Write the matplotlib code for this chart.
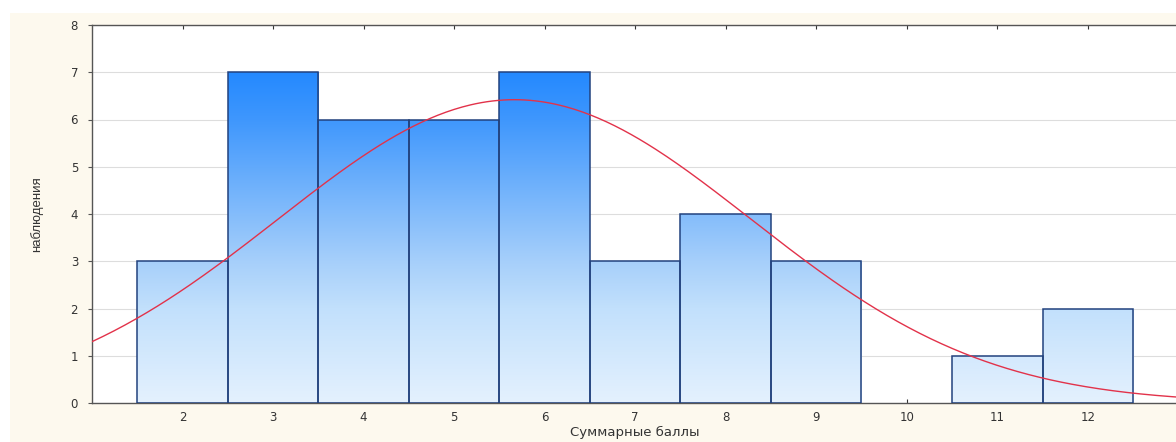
import numpy as np
import matplotlib
matplotlib.use("Agg")
import matplotlib.pyplot as plt
from matplotlib.colors import LinearSegmentedColormap
from matplotlib.patches import Rectangle

# histogram of total scores
scores = [2, 3, 4, 5, 6, 7, 8, 9, 10, 11, 12]
counts = [3, 7, 6, 6, 7, 3, 4, 3, 0, 1, 2]

x_label = "Суммарные баллы"
y_label = "наблюдения"

plt.rcParams['font.family'] = ['DejaVu Sans']

fig = plt.figure(figsize=(11.76, 4.42), dpi=100)
fig.patch.set_facecolor('white')
# cream panel behind the plot
fig.add_artist(Rectangle((10 / 1176, 0), 1, 1 - 13 / 442, transform=fig.transFigure,
                         facecolor='#fdf9ee', edgecolor='none', zorder=0))

ax = fig.add_axes([92 / 1176, 39 / 442, 1 - 92 / 1176 + 0.002, 378 / 442])
ax.set_facecolor('white')
ax.set_xlim(1, 13)
ax.set_ylim(0, 8)

# vertical blue gradient, shared by all bars
grad_cmap = LinearSegmentedColormap.from_list(
    'bars', [(0.0, '#e4f1fe'), (2 / 7, '#c2e0fc'), (3 / 7, '#a6cffa'),
             (6 / 7, '#3f97fd'), (1.0, '#2489ff')])
grad = np.linspace(0, 1, 256).reshape(-1, 1)

for s, c in zip(scores, counts):
    if c == 0:
        continue
    bar = Rectangle((s - 0.5, 0), 1, c, facecolor='none', edgecolor='#22427e',
                    linewidth=1.1, zorder=3)
    ax.add_patch(bar)
    im = ax.imshow(grad, cmap=grad_cmap, origin='lower', aspect='auto',
                   extent=(1, 13, 0, 7), zorder=2, interpolation='bilinear')
    im.set_clip_path(bar)

# fitted normal curve
vals = np.repeat(scores, counts)
mu = vals.mean()
sd = vals.std(ddof=1)
xs = np.linspace(1, 13, 400)
ys = len(vals) * np.exp(-(xs - mu) ** 2 / (2 * sd ** 2)) / (sd * np.sqrt(2 * np.pi))
ax.plot(xs, ys, color='#e2324a', linewidth=1.0, zorder=4)

ax.set_xticks(scores)
ax.set_yticks(range(0, 9))
ax.yaxis.grid(True, color='#dddddd', linewidth=0.8, zorder=0)
ax.set_axisbelow(True)
ax.tick_params(axis='x', direction='in', length=3, top=True, labelsize=8.5,
               color='#333333', pad=6, labelcolor='#333333')
ax.tick_params(axis='y', direction='out', length=3, right=True, labelsize=8.5,
               color='#555555', pad=7, labelcolor='#333333')
for sp in ax.spines.values():
    sp.set_color('#555555')
    sp.set_linewidth(1.0)

ax.set_xlabel(x_label, fontsize=9.5, color='#333333', labelpad=1)
ax.set_ylabel(y_label, fontsize=9.5, color='#333333', labelpad=20,
              family=['Liberation Sans', 'DejaVu Sans'])

fig.savefig('out.png', dpi=100, facecolor=fig.get_facecolor())
